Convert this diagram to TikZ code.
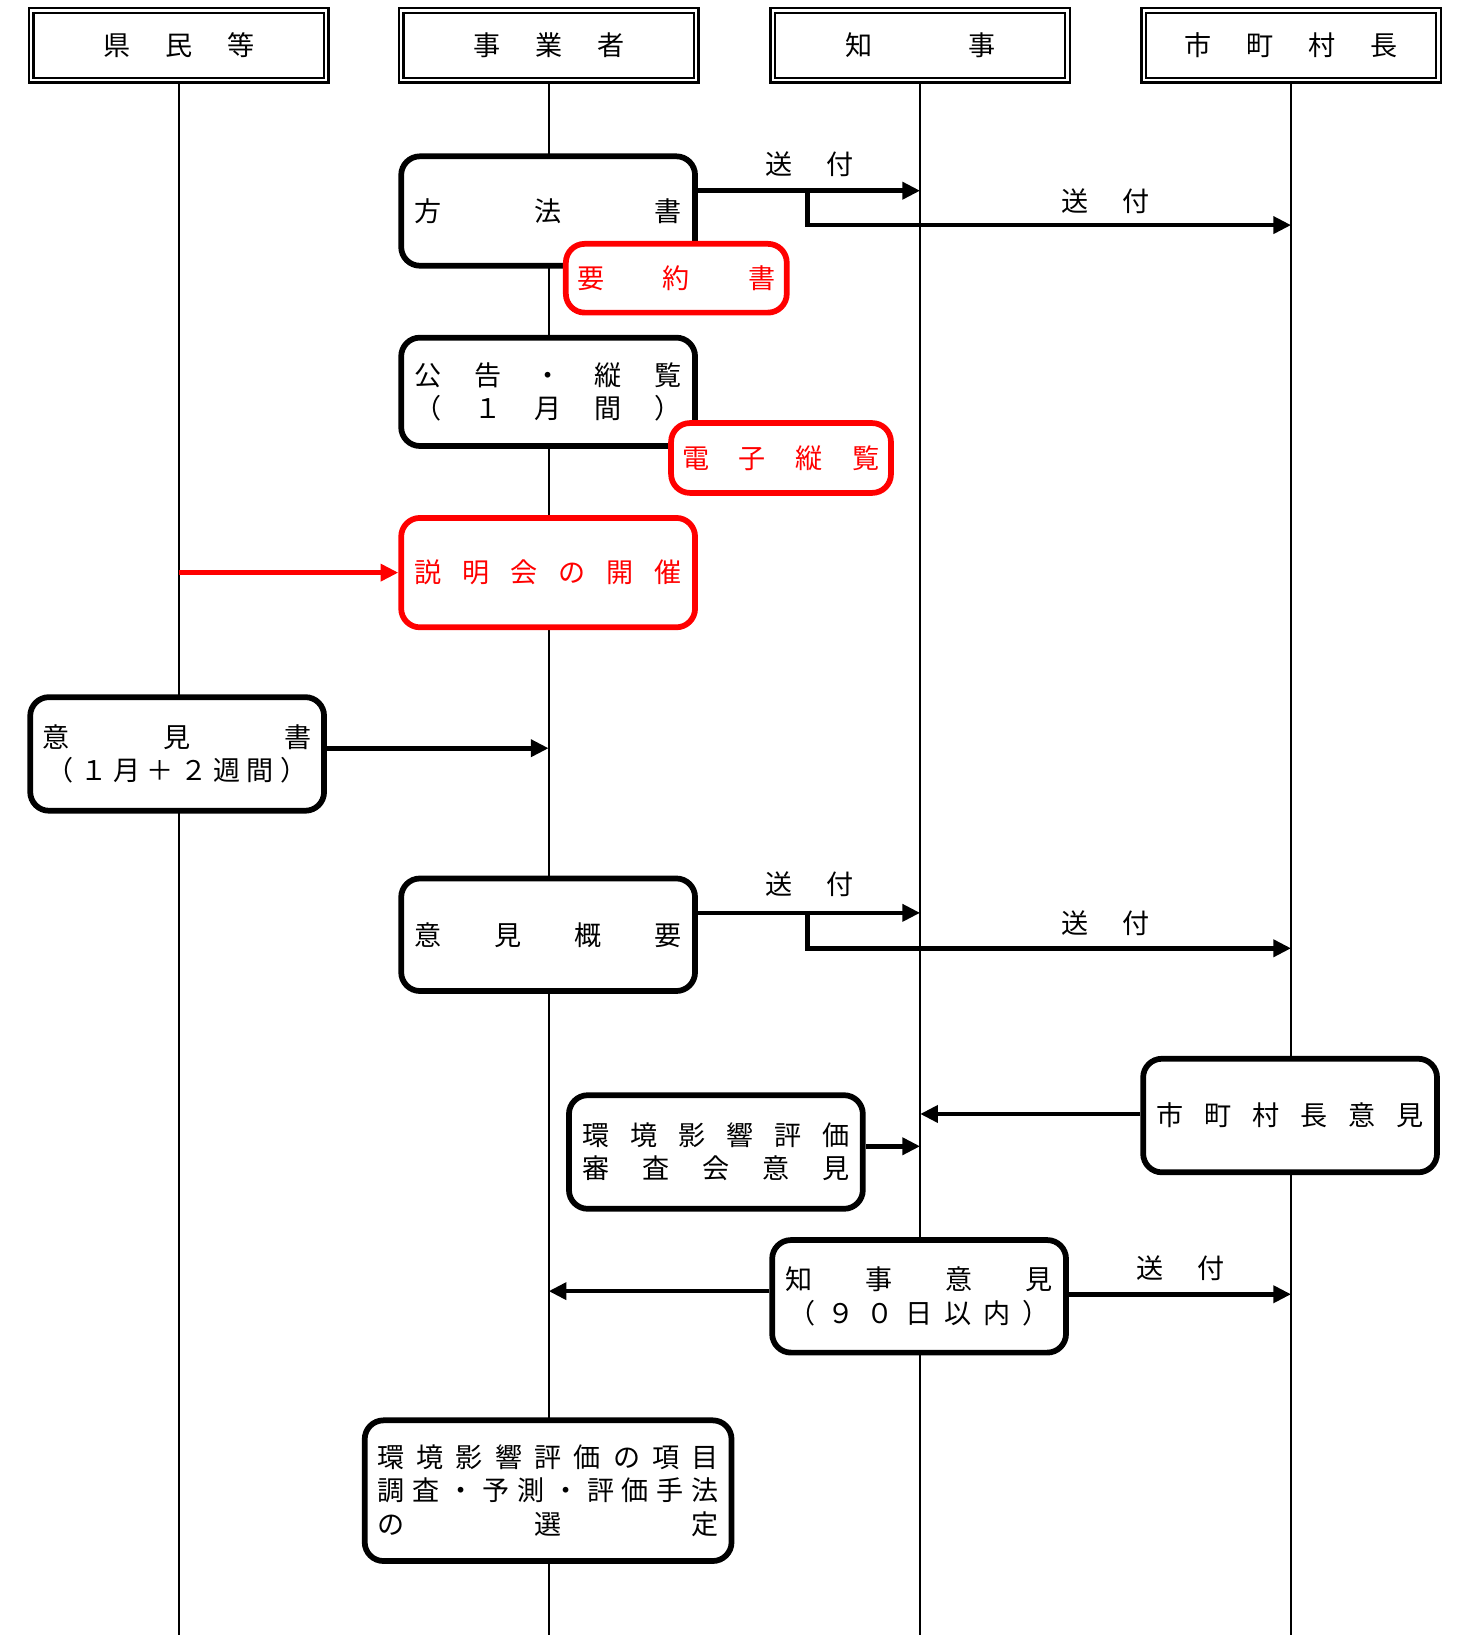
\documentclass[tikz,border=0pt]{standalone}
\usepackage{fontspec}
\newfontfamily\jp{Noto Sans CJK JP}
\usetikzlibrary{arrows.meta}
\newcommand\spr[2]{\makebox[#1pt][s]{#2}}
\begin{document}
\begin{tikzpicture}[x=1pt,y=-1pt,
  jpf/.style={font=\jp\fontsize{26}{32}\selectfont},
  hdr/.style={jpf, draw, double, double distance=2.2pt, line width=2.2pt, minimum width=283pt, minimum height=67pt, inner sep=0pt, fill=white},
  bx/.style={jpf, draw, line width=5.5pt, rounded corners=18pt, fill=white, inner sep=0pt, align=center, minimum width=282pt},
  rbx/.style={bx, draw=red, text=red},
  lane/.style={line width=2.2pt},
  arr/.style={line width=4.5pt, -{Triangle[length=17pt,width=16pt]}},
  flow/.style={line width=4.5pt},
  lbl/.style={jpf, inner sep=0pt}
]
\fill[white] (0,0) rectangle (1403,1569);
\useasboundingbox (0,0) rectangle (1403,1569);
\coordinate (bot) at (0,1569);

% headers
\node[hdr] (h1) at (171.5,43.5) {\spr{145}{県\hfill 民\hfill 等}};
\node[hdr] (h2) at (526.5,43.5) {\spr{145}{事\hfill 業\hfill 者}};
\node[hdr] (h3) at (883,43.5) {\spr{144}{知\hfill 事}};
\node[hdr] (h4) at (1239,43.5) {\spr{204}{市\hfill 町\hfill 村\hfill 長}};

% lanes
\draw[lane] (h1.south) -- (h1.south |- bot);
\draw[lane] (h2.south) -- (h2.south |- bot);
\draw[lane] (h3.south) -- (h3.south |- bot);
\draw[lane] (h4.south) -- (h4.south |- bot);

% boxes
\node[bx, minimum height=105pt] (hoho) at (526,202.5) {\spr{257}{方\hfill 法\hfill 書}};
\node[rbx, minimum width=212pt, minimum height=66pt] (yoyaku) at (649,267) {\spr{190}{要\hfill 約\hfill 書}};
\node[bx, minimum height=104pt] (koku) at (526,376) {\spr{257}{公\hfill 告\hfill ・\hfill 縦\hfill 覧}\\\spr{257}{（\hfill １\hfill 月\hfill 間\hfill ）}};
\node[rbx, minimum width=211pt, minimum height=67pt] (denshi) at (749.5,439.5) {\spr{190}{電\hfill 子\hfill 縦\hfill 覧}};
\node[rbx, minimum height=105pt] (setsu) at (526,549.5) {\spr{257}{説\hfill 明\hfill 会\hfill の\hfill 開\hfill 催}};
\node[bx, minimum height=109pt] (ikensho) at (170,723.5) {\spr{258}{意\hfill 見\hfill 書}\\\spr{250}{（\hfill １\hfill 月\hfill ＋\hfill ２\hfill 週\hfill 間\hfill ）}};
\node[bx, minimum height=108pt] (gaiyo) at (526,897) {\spr{257}{意\hfill 見\hfill 概\hfill 要}};
\node[bx, minimum height=109pt] (shicho) at (1238,1070.5) {\spr{256}{市\hfill 町\hfill 村\hfill 長\hfill 意\hfill 見}};
\node[bx, minimum height=109pt] (shinsa) at (687,1105.5) {\spr{257}{環\hfill 境\hfill 影\hfill 響\hfill 評\hfill 価}\\\spr{257}{審\hfill 査\hfill 会\hfill 意\hfill 見}};
\node[bx, minimum height=108pt] (chiji) at (882,1244) {\spr{257}{知\hfill 事\hfill 意\hfill 見}\\\spr{250}{（\hfill ９\hfill ０\hfill 日\hfill 以\hfill 内\hfill ）}};
\node[bx, minimum width=352pt, minimum height=135pt] (sentei) at (526,1430.5) {\spr{328}{環\hfill 境\hfill 影\hfill 響\hfill 評\hfill 価\hfill の\hfill 項\hfill 目}\\\spr{328}{調\hfill 査\hfill ・\hfill 予\hfill 測\hfill ・\hfill 評\hfill 価\hfill 手\hfill 法}\\\spr{328}{の\hfill 選\hfill 定}};

% arrows: 方法書
\draw[arr] ([yshift=19.5pt]hoho.east) -- ([yshift=19.5pt]hoho.east -| h3.south);
\coordinate (b1) at (775,183);
\coordinate (b1d) at (775,216);
\draw[flow] ([yshift=2pt]b1) -- (b1d);
\draw[arr] ([xshift=-2.25pt]b1d) -- (b1d -| h4.south);
\node[lbl] (s1) at (777,158) {\spr{85}{送\hfill 付}};
\node[lbl] (s2) at (1061,193) {\spr{85}{送\hfill 付}};

% 説明会
\draw[arr, red] (setsu.west -| h1.south) -- (setsu.west);

% 意見書
\draw[arr] ([yshift=5.5pt]ikensho.east) -- ([yshift=5.5pt]ikensho.east -| h2.south);

% 意見概要
\draw[arr] ([yshift=21pt]gaiyo.east) -- ([yshift=21pt]gaiyo.east -| h3.south);
\coordinate (b2) at (775,876);
\coordinate (b2d) at (775,910);
\draw[flow] ([yshift=2pt]b2) -- (b2d);
\draw[arr] ([xshift=-2.25pt]b2d) -- (b2d -| h4.south);
\node[lbl] (s3) at (777,849) {\spr{85}{送\hfill 付}};
\node[lbl] (s4) at (1061,886) {\spr{85}{送\hfill 付}};

% 市町村長意見 -> 知事
\draw[arr] ([yshift=1.5pt]shicho.west) -- ([yshift=1.5pt]shicho.west -| h3.south);
% 審査会 -> 知事
\draw[arr] ([yshift=5.5pt]shinsa.east) -- ([yshift=5.5pt]shinsa.east -| h3.south);
% 知事意見
\draw[arr] ([yshift=5pt]chiji.west) -- ([yshift=5pt]chiji.west -| h2.south);
\draw[arr] ([yshift=2pt]chiji.east) -- ([yshift=2pt]chiji.east -| h4.south);
\node[lbl] (s5) at (1133,1217) {\spr{85}{送\hfill 付}};
\end{tikzpicture}
\end{document}
